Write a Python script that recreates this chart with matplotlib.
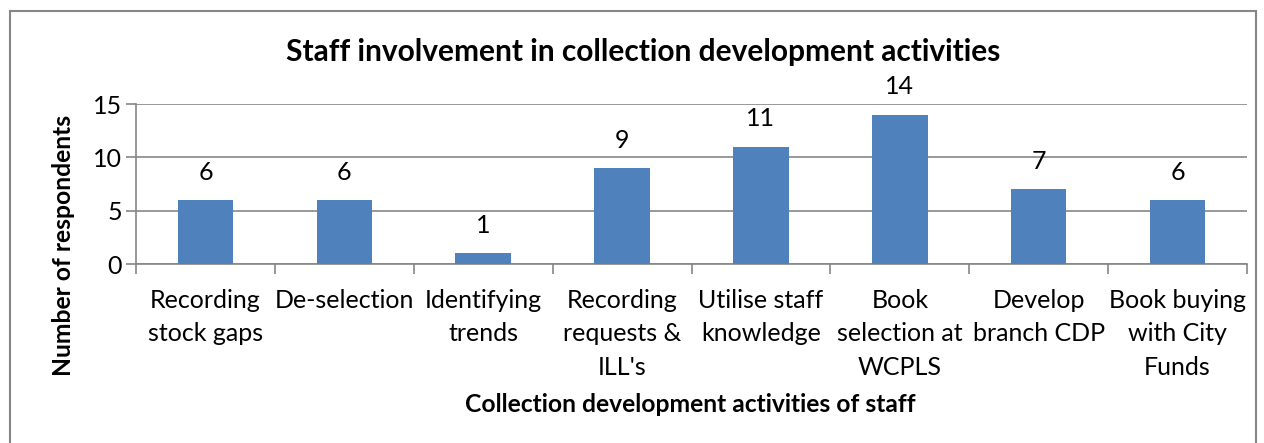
import matplotlib
matplotlib.use("Agg")
import matplotlib.pyplot as plt
import numpy as np

categories = [
    "Recording\nstock gaps",
    "De-selection",
    "Identifying\ntrends",
    "Recording\nrequests &\nILL's",
    "Utilise staff\nknowledge",
    "Book\nselection at\nWCPLS",
    "Develop\nbranch CDP",
    "Book buying\nwith City\nFunds",
]
respondents = [6, 6, 1, 9, 11, 14, 7, 6]
y_ticks = [0, 5, 10, 15]

plt.rcParams["font.family"] = ["Lato", "DejaVu Sans"]

bar_color = "#4F81BD"
line_gray = "#868686"

fig = plt.figure(figsize=(12.64, 4.43), dpi=100)
ax = fig.add_axes([136 / 1264, 1 - 264 / 443, (1247 - 136) / 1264, (264 - 104) / 443])

x = np.arange(len(categories))
bars = ax.bar(x, respondents, width=0.4, color=bar_color, zorder=3)
for xi, v in zip(x, respondents):
    ax.annotate(str(v), (xi, v), xytext=(0, 20), textcoords="offset points",
                ha="center", va="center", fontsize=18)

ax.set_xlim(-0.5, len(categories) - 0.5)
ax.set_ylim(0, 15)
ax.set_yticks(y_ticks)
ax.yaxis.grid(True, color=line_gray, linewidth=1.2, zorder=0)
ax.tick_params(axis="y", length=7, width=1.2, color=line_gray, labelsize=18, pad=3)

ax.set_xticks(x)
ax.set_xticklabels(categories, fontsize=18, linespacing=1.55, va="top")
ax.tick_params(axis="x", length=0, pad=18)
# category boundary ticks
ax.set_xticks(np.arange(-0.5, len(categories)), minor=True)
ax.tick_params(axis="x", which="minor", length=7, width=1.2, color=line_gray)

for side in ["top", "right"]:
    ax.spines[side].set_visible(False)
for side in ["left", "bottom"]:
    ax.spines[side].set_color(line_gray)
    ax.spines[side].set_linewidth(1.2)

fig.text(643 / 1264, 1 - 52 / 443, "Staff involvement in collection development activities",
         ha="center", va="center", fontsize=21.5, fontweight="bold")
fig.text(64 / 1264, 1 - 245 / 443, "Number of respondents", rotation=90,
         ha="center", va="center", fontsize=17.7, fontweight="bold")
fig.text(690 / 1264, 1 - 405 / 443, "Collection development activities of staff",
         ha="center", va="center", fontsize=17.7, fontweight="bold")

# chart area border
border = plt.Rectangle((10 / 1264, -0.05), (1256 - 10) / 1264, 1 - 11 / 443 + 0.05,
                       transform=fig.transFigure, fill=False, edgecolor=line_gray,
                       linewidth=1.5)
fig.patches.append(border)

fig.savefig("out.png", dpi=100)
